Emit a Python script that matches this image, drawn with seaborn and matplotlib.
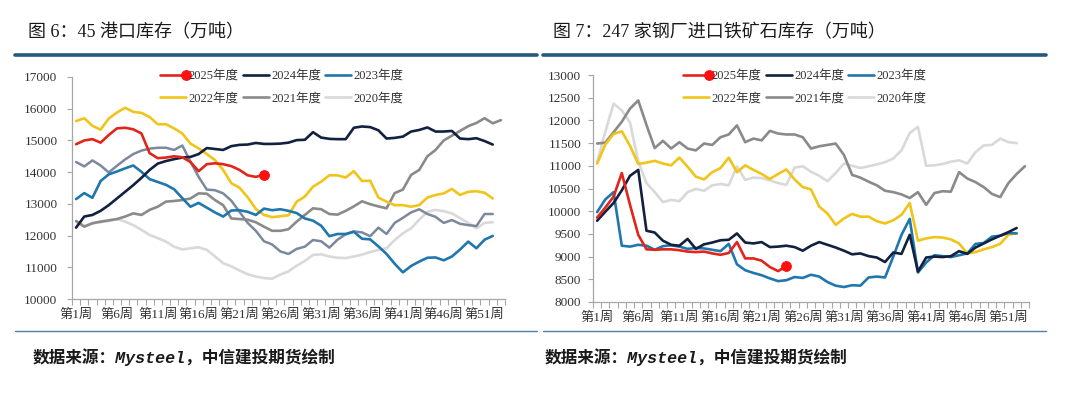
import numpy as np
import seaborn as sns
import matplotlib.pyplot as plt
from matplotlib.lines import Line2D
from matplotlib.legend_handler import HandlerLine2D

# ---------------- data ----------------
weeks = list(range(1, 54))
tick_weeks = list(range(1, 54, 5))
tick_labels = [f"第{w}周" for w in tick_weeks]
years = ["2025年度", "2024年度", "2023年度", "2022年度", "2021年度", "2020年度"]

# 图6: 45港口库存 (万吨)
port_2025 = [14880, 15000, 15040, 14930, 15170, 15380, 15400, 15350, 15220, 14600,
             14440, 14460, 14500, 14470, 14320, 14030, 14250, 14280, 14250, 14190,
             14070, 13900, 13850, 13920]
port_2024 = [12250, 12600, 12650, 12780, 12960, 13170, 13380, 13590, 13820, 14070,
             14270, 14350, 14410, 14460, 14480, 14570, 14760, 14730, 14700, 14820,
             14860, 14870, 14920, 14890, 14890, 14900, 14930, 15010, 15020, 15260,
             15090, 15050, 15040, 15040, 15400, 15440, 15420, 15320, 15060, 15080,
             15120, 15280, 15330, 15410, 15280, 15280, 15300, 15060, 15040, 15070,
             14980, 14870]
port_2023 = [13150, 13340, 13190, 13720, 13930, 14020, 14120, 14210, 14010, 13780,
             13690, 13600, 13460, 13180, 12910, 13030, 12880, 12730, 12600, 12790,
             12800, 12750, 12650, 12850, 12800, 12830, 12780, 12710, 12540, 12470,
             12310, 11980, 12050, 12050, 12120, 11900, 11880, 11660, 11420, 11110,
             10840, 11040, 11180, 11300, 11310, 11220, 11340, 11560, 11810, 11600,
             11870, 11990]
port_2022 = [15610, 15700, 15460, 15340, 15690, 15880, 16030, 15900, 15870, 15740,
             15510, 15510, 15380, 15220, 14900, 14750, 14570, 14380, 14070, 13650,
             13510, 13210, 12840, 12650, 12580, 12610, 12640, 13070, 13230, 13540,
             13700, 13900, 13900, 13830, 14030, 13720, 13730, 13200, 13070, 12960,
             12960, 12910, 12960, 13200, 13280, 13330, 13470, 13280, 13380, 13400,
             13350, 13170]
port_2021 = [12460, 12280, 12390, 12440, 12480, 12520, 12600, 12700, 12650, 12810,
             12910, 13070, 13090, 13120, 13170, 13330, 13320, 13120, 12960, 12540,
             12520, 12500, 12420, 12280, 12150, 12150, 12200, 12440, 12650, 12860,
             12830, 12680, 12660, 12780, 12920, 13080, 12990, 12920, 12860, 13340,
             13450, 13910, 14070, 14500, 14700, 15000, 15150, 15300, 15450, 15550,
             15700, 15540, 15640]
port_2020 = [12450, 12300, 12380, 12420, 12460, 12520, 12440, 12330, 12180, 12020,
             11920, 11810, 11650, 11560, 11600, 11630, 11550, 11340, 11130, 11030,
             10900, 10780, 10710, 10660, 10640, 10770, 10870, 11050, 11200, 11390,
             11410, 11340, 11300, 11290, 11340, 11400, 11480, 11550, 11600, 11860,
             12070, 12230, 12500, 12750, 12810, 12770, 12700, 12550, 12400, 12230,
             12400, 12420]
# extra unlabelled slate-grey series in the port chart
port_other = [14320, 14180, 14370, 14210, 13990, 14200, 14400, 14570, 14680, 14740,
              14770, 14770, 14700, 14840, 14330, 13850, 13450, 13430, 13330, 13100,
              12750, 12400, 12150, 11820, 11720, 11500, 11420, 11580, 11650, 11860,
              11820, 11620, 11870, 12040, 12130, 12100, 11980, 12250, 12050, 12400,
              12560, 12730, 12830, 12680, 12590, 12400, 12490, 12370, 12330, 12300,
              12680, 12680]

# 图7: 247家钢厂进口铁矿石库存 (万吨)
ore_2025 = [9860, 10080, 10320, 10840, 10140, 9480, 9160, 9150, 9160, 9160,
            9140, 9110, 9100, 9110, 9070, 9040, 9080, 9320, 8960, 8960,
            8910, 8770, 8680, 8790]
ore_2024 = [9790, 9990, 10180, 10460, 10780, 10910, 9570, 9530, 9350, 9260,
            9240, 9390, 9170, 9270, 9310, 9360, 9370, 9510, 9310, 9290,
            9320, 9210, 9220, 9240, 9210, 9130, 9240, 9320, 9260, 9200,
            9130, 9050, 9070, 9010, 8980, 8880, 9090, 9060, 9480, 8670,
            8980, 9000, 8990, 9010, 9120, 9060, 9200, 9290, 9380, 9460,
            9540, 9630]
ore_2023 = [9980, 10260, 10420, 9240, 9220, 9260, 9240, 9150, 9230, 9250,
            9220, 9170, 9190, 9180, 9150, 9120, 9280, 8830, 8700, 8640,
            8590, 8520, 8460, 8480, 8550, 8530, 8600, 8560, 8440, 8360,
            8330, 8370, 8360, 8540, 8560, 8540, 9000, 9480, 9830, 8650,
            8870, 9030, 9010, 8990, 9030, 9070, 9280, 9300, 9440, 9460,
            9520, 9510]
ore_2022 = [11050, 11470, 11700, 11760, 11440, 11040, 11070, 11110, 11050, 11010,
            11180, 10980, 10760, 10700, 10860, 10950, 11180, 10860, 11010, 10910,
            10820, 10710, 10820, 10920, 10700, 10530, 10480, 10100, 9950, 9700,
            9840, 9940, 9880, 9880, 9780, 9730, 9800, 9920, 10180, 9350,
            9400, 9430, 9420, 9380, 9290, 9070, 9100, 9160, 9210, 9280,
            9480, 9520]
ore_2021 = [11490, 11510, 11740, 11970, 12260, 12440, 11900, 11390, 11550, 11380,
            11520, 11380, 11340, 11490, 11460, 11630, 11690, 11890, 11520, 11600,
            11560, 11770, 11710, 11690, 11690, 11630, 11380, 11430, 11460, 11490,
            11240, 10800, 10740, 10650, 10570, 10450, 10420, 10370, 10290, 10420,
            10140, 10400, 10440, 10430, 10860, 10720, 10640, 10530, 10380, 10310,
            10620, 10820, 10990]
ore_2020 = [11080, 11750, 12370, 12220, 11950, 11100, 10620, 10420, 10200, 10250,
            10220, 10420, 10490, 10450, 10570, 10600, 10570, 10990, 10690, 10740,
            10730, 10680, 10620, 10580, 10960, 10990, 10870, 10780, 10660, 10840,
            11050, 11000, 10950, 10990, 11030, 11080, 11160, 11340, 11720, 11860,
            11000, 11010, 11040, 11090, 11120, 11050, 11300, 11450, 11460, 11600,
            11520, 11500]

port = dict(zip(years, [port_2025, port_2024, port_2023, port_2022, port_2021, port_2020]))
ore = dict(zip(years, [ore_2025, ore_2024, ore_2023, ore_2022, ore_2021, ore_2020]))

colors = {"2025年度": "#e1251b", "2024年度": "#12213f", "2023年度": "#1f77ad",
          "2022年度": "#f0c419", "2021年度": "#8a8a8a", "2020年度": "#d9d9d9"}

# ---------------- style ----------------
sns.set_theme(style="white")
plt.rcParams["font.family"] = ["Liberation Serif", "Noto Sans CJK SC", "DejaVu Sans"]

W, H = 1080, 393
fig = plt.figure(figsize=(W / 100, H / 100), dpi=100)


class EndDot(HandlerLine2D):
    # legend handle with the dot at the right end of the line (3-point line)
    def create_artists(self, *args, **kwargs):
        arts = super().create_artists(*args, **kwargs)
        for a in arts:
            n = len(a.get_xdata())
            a.set_markevery([n - 1])
        return arts


def rect(x0, y0, x1, y1):
    return [x0 / W, 1 - y1 / H, (x1 - x0) / W, (y1 - y0) / H]


def hline(x0, x1, y, color, lw):
    fig.add_artist(Line2D([x0 / W, x1 / W], [1 - y / H, 1 - y / H],
                          transform=fig.transFigure, color=color, lw=lw))


def panel(box, data, extra, yticks, ypad, leg_xy):
    ax = fig.add_axes(rect(*box))
    handles = {}
    for name in reversed(years):
        vals = data[name]
        if name == "2021年度" and extra is not None:
            sns.lineplot(x=weeks[:len(extra)], y=extra, ax=ax, color="#7c889c", lw=1.8)
        kw = {}
        if name == "2025年度":
            kw = dict(marker="o", markevery=[len(vals) - 1], markersize=7,
                      markerfacecolor="#ff1010", markeredgecolor="#ff1010")
        sns.lineplot(x=weeks[:len(vals)], y=vals, ax=ax, color=colors[name], lw=1.9, **kw)
        handles[name] = ax.lines[-1]

    ax.set_xlim(0.5, 53.5)
    ax.set_ylim(yticks[0], yticks[-1])
    ax.set_yticks(yticks)
    ax.set_yticklabels([str(v) for v in yticks])
    ax.set_xticks(tick_weeks)
    ax.set_xticklabels(tick_labels)
    ax.set_xticks(np.arange(0.5, 54, 1), minor=True)
    ax.set_xlabel("")
    ax.set_ylabel("")
    ax.tick_params(axis="x", which="major", bottom=True, length=0, pad=7,
                   labelsize=9.5, labelcolor="#333333")
    ax.tick_params(axis="x", which="minor", bottom=True, length=4, width=0.8,
                   color="#a6a6a6", direction="out")
    ax.tick_params(axis="y", which="major", left=True, length=3.5, width=0.8,
                   color="#a6a6a6", direction="out", pad=ypad,
                   labelsize=9.5, labelcolor="#333333")
    for s in ["top", "right"]:
        ax.spines[s].set_visible(False)
    for s in ["left", "bottom"]:
        ax.spines[s].set_color("#a6a6a6")
        ax.spines[s].set_linewidth(0.9)

    order = ["2025年度", "2022年度", "2024年度", "2021年度", "2023年度", "2020年度"]
    ax.legend([handles[n] for n in order], order, ncol=3, loc="upper left",
              bbox_to_anchor=leg_xy, frameon=False, fontsize=9,
              handlelength=2.1, handletextpad=0.2, columnspacing=0.3,
              labelspacing=0.85, borderpad=0, borderaxespad=0,
              labelcolor="#333333",
              handler_map={handles["2025年度"]: EndDot()})
    return ax


# left: 45 ports
panel((72, 77, 505, 299), port, port_other, list(range(10000, 17001, 1000)), 7,
      ((160 - 72) / 433, (299 - 70) / 222))
# right: 247 steel mills
panel((593, 75, 1029, 302), ore, None, list(range(8000, 13001, 500)), 5,
      ((683 - 593) / 436, (302 - 70) / 227))

# titles, rules and sources
title_kw = dict(fontsize=13, va="center", ha="left", color="#1a1a1a")
fig.text(28 / W, 1 - 33 / H, "图 6：45 港口库存（万吨）", **title_kw)
fig.text(553 / W, 1 - 33 / H, "图 7：247 家钢厂进口铁矿石库存（万吨）", **title_kw)

hline(15, 537, 54.5, "#24587e", 2.6)
hline(543, 1046, 54.5, "#24587e", 2.6)
hline(15, 537, 330.5, "#4f7fa8", 1.0)
hline(543, 1046, 330.5, "#4f7fa8", 1.0)

src_kw = dict(fontsize=12, va="center", ha="left", color="#1a1a1a",
              style="italic", weight="bold",
              family=["Liberation Mono", "Noto Sans CJK SC"])
fig.text(33 / W, 1 - 357 / H, "数据来源：Mysteel，中信建投期货绘制", **src_kw)
fig.text(545 / W, 1 - 357 / H, "数据来源：Mysteel，中信建投期货绘制", **src_kw)

fig.savefig("out.png", dpi=100)
